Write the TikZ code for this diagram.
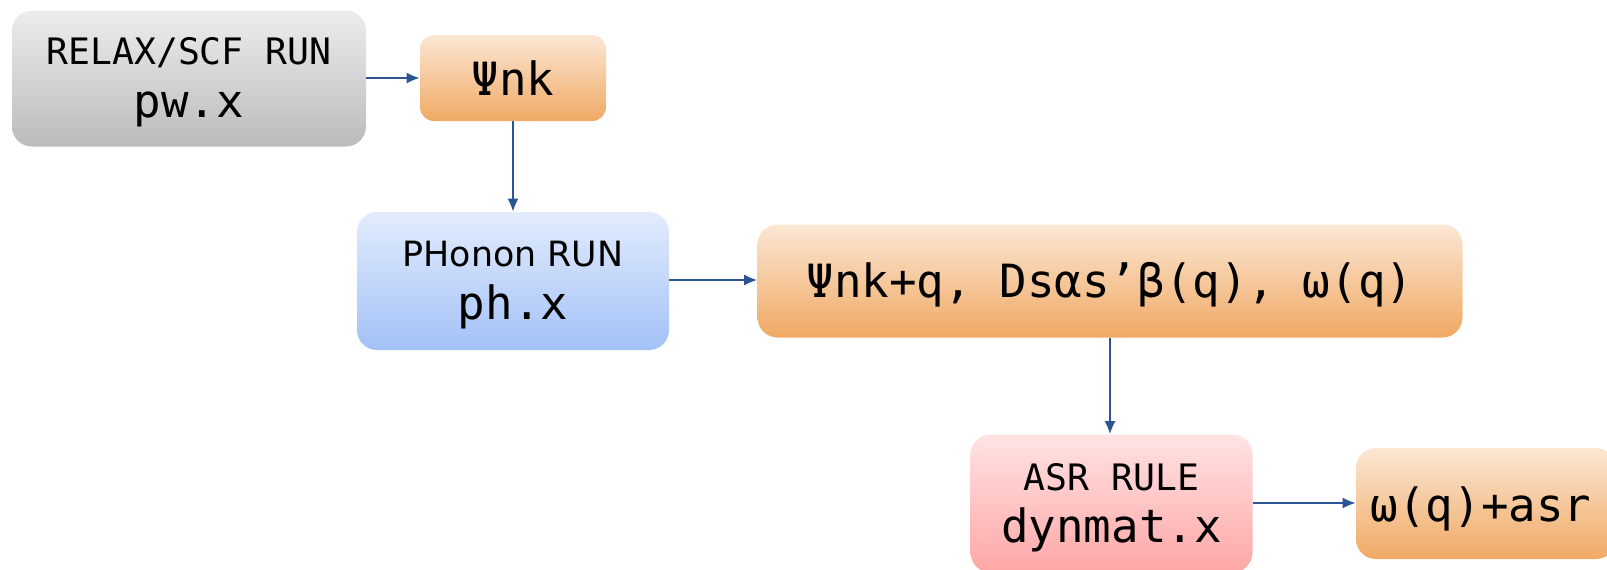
\documentclass[tikz,border=0pt]{standalone}
\usepackage{fontspec}
\newfontfamily\monof{DejaVu Sans Mono}
\newfontfamily\sansf{DejaVu Sans}
\usetikzlibrary{arrows.meta}

\definecolor{arrowblue}{HTML}{2B5592}
\definecolor{grayTop}{HTML}{EDEDED}
\definecolor{grayBot}{HTML}{BBBBBB}
\definecolor{orangeTop}{HTML}{FBE7D4}
\definecolor{orangeBot}{HTML}{F0A964}
\definecolor{blueTop}{HTML}{E2ECFD}
\definecolor{blueBot}{HTML}{A3C1F7}
\definecolor{pinkTop}{HTML}{FFE3E3}
\definecolor{pinkBot}{HTML}{FFA6A6}

\tikzset{
  box/.style={rectangle, rounded corners=10pt, inner sep=0pt, draw=none},
  graybox/.style={box, top color=grayTop, bottom color=grayBot},
  orangebox/.style={box, top color=orangeTop, bottom color=orangeBot},
  bluebox/.style={box, top color=blueTop, bottom color=blueBot},
  pinkbox/.style={box, top color=pinkTop, bottom color=pinkBot},
  smalltxt/.style={anchor=base, inner sep=0pt, font=\monof\fontsize{18.2}{20}\selectfont},
  bigtxt/.style={anchor=base, inner sep=0pt, font=\monof\fontsize{22.9}{24}\selectfont},
  flow/.style={draw=arrowblue, line width=0.8pt, -{Latex[length=6.5pt,width=5.5pt]}}
}

\begin{document}
\begin{tikzpicture}[x=0.5pt, y=-0.5pt]
  \useasboundingbox (0,0) rectangle (1607,569);

  % boxes
  \node[graybox, minimum width=177pt, minimum height=68pt] (relax) at (189,78.5) {};
  \node[orangebox, rounded corners=7pt, minimum width=93pt, minimum height=43pt] (psi) at (513,78) {};
  \node[bluebox, minimum width=156pt, minimum height=69pt] (phonon) at (513,281) {};
  \node[orangebox, minimum width=352.5pt, minimum height=56.5pt] (dyn) at (1110,281) {};
  \node[pinkbox, minimum width=141pt, minimum height=69pt] (asr) at (1111.5,503.5) {};
  \node[orangebox, minimum width=130pt, minimum height=55.5pt] (final) at (1486,503.5) {};

  % texts
  \node[smalltxt] (relaxA) at (189,64.5) {RELAX/SCF RUN};
  \node[bigtxt] (relaxB) at (189,117) {pw.x};
  \node[bigtxt] (psiA) at (513,95) {Ψnk};
  \node[anchor=base, inner sep=0pt, font=\sansf\fontsize{17.4}{20}\selectfont] (phononA) at (513,266) {PHonon RUN};
  \node[bigtxt] (phononB) at (513,319) {ph.x};
  \node[bigtxt] (dynA) at (1110,297) {Ψnk+q, Dsαs’β(q), ω(q)};
  \node[smalltxt] (asrA) at (1111.5,490) {ASR RULE};
  \node[bigtxt] (asrB) at (1111.5,542) {dynmat.x};
  \node[bigtxt] (finalA) at (1481,521) {ω(q)+asr};

  % connectors
  \draw[flow] (relax.east |- 0,78) -- (psi.west |- 0,78);
  \draw[flow] (psi.south) -- (phonon.north);
  \draw[flow] (phonon.east |- 0,280) -- (dyn.west |- 0,280);
  \draw[flow] (dyn.south) -- (dyn.south |- asr.north);
  \draw[flow] (asr.east |- 0,503) -- (final.west |- 0,503);
\end{tikzpicture}
\end{document}
